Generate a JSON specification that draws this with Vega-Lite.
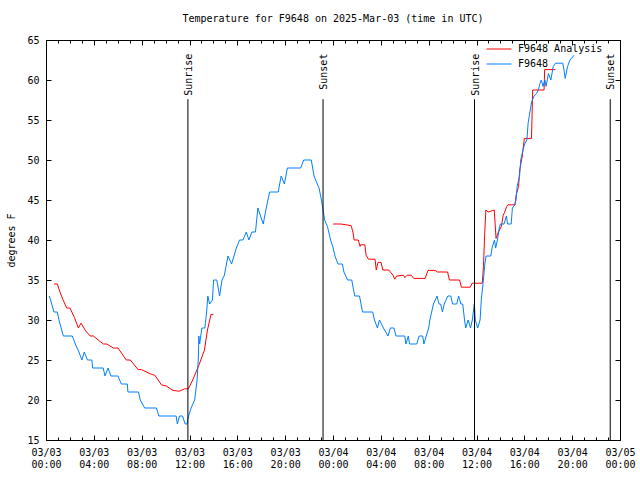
{
  "$schema": "https://vega.github.io/schema/vega-lite/v6.json",
  "width": 574,
  "height": 400,
  "autosize": {"type": "none"},
  "padding": {"left": 46, "top": 40, "right": 20, "bottom": 40},
  "background": "white",
  "title": {"text": "Temperature for F9648 on 2025-Mar-03 (time in UTC)", "font": "DejaVu Sans Mono", "fontSize": 10, "fontWeight": "normal", "offset": 11, "color": "black", "anchor": "middle", "frame": "group"},
  "config": {
    "view": {"stroke": "black", "strokeWidth": 1},
    "axis": {"grid": false, "domain": false, "labelFont": "DejaVu Sans Mono", "labelFontSize": 10, "labelColor": "black", "titleFont": "DejaVu Sans Mono", "titleFontSize": 10, "titleFontWeight": "normal", "titleColor": "black", "tickColor": "black", "tickWidth": 1},
    "legend": {"orient": "none", "legendX": 440, "legendY": 3, "labelFont": "DejaVu Sans Mono", "labelFontSize": 10, "labelColor": "black", "symbolType": "stroke", "symbolStrokeWidth": 1, "symbolSize": 625, "clipHeight": 12, "rowPadding": 3, "padding": 0, "labelOffset": 6}
  },
  "datasets": {
    "obs": [
      {"t":"2025-03-03T00:40:00Z","v":34.5,"s":"F9648 Analysis","g":"a1"},
      {"t":"2025-03-03T00:57:00Z","v":34.5,"s":"F9648 Analysis","g":"a1"},
      {"t":"2025-03-03T01:10:00Z","v":33.5,"s":"F9648 Analysis","g":"a1"},
      {"t":"2025-03-03T01:24:00Z","v":32.6,"s":"F9648 Analysis","g":"a1"},
      {"t":"2025-03-03T01:44:00Z","v":31.5,"s":"F9648 Analysis","g":"a1"},
      {"t":"2025-03-03T02:00:00Z","v":31.5,"s":"F9648 Analysis","g":"a1"},
      {"t":"2025-03-03T02:23:00Z","v":30.3,"s":"F9648 Analysis","g":"a1"},
      {"t":"2025-03-03T02:42:00Z","v":29,"s":"F9648 Analysis","g":"a1"},
      {"t":"2025-03-03T02:56:00Z","v":29.6,"s":"F9648 Analysis","g":"a1"},
      {"t":"2025-03-03T03:20:00Z","v":28.6,"s":"F9648 Analysis","g":"a1"},
      {"t":"2025-03-03T03:42:00Z","v":28,"s":"F9648 Analysis","g":"a1"},
      {"t":"2025-03-03T03:58:00Z","v":28,"s":"F9648 Analysis","g":"a1"},
      {"t":"2025-03-03T04:32:00Z","v":27.3,"s":"F9648 Analysis","g":"a1"},
      {"t":"2025-03-03T04:48:00Z","v":27,"s":"F9648 Analysis","g":"a1"},
      {"t":"2025-03-03T05:05:00Z","v":27,"s":"F9648 Analysis","g":"a1"},
      {"t":"2025-03-03T05:38:00Z","v":26.5,"s":"F9648 Analysis","g":"a1"},
      {"t":"2025-03-03T06:01:00Z","v":26.5,"s":"F9648 Analysis","g":"a1"},
      {"t":"2025-03-03T06:43:00Z","v":25,"s":"F9648 Analysis","g":"a1"},
      {"t":"2025-03-03T07:03:00Z","v":25,"s":"F9648 Analysis","g":"a1"},
      {"t":"2025-03-03T07:42:00Z","v":23.8,"s":"F9648 Analysis","g":"a1"},
      {"t":"2025-03-03T07:59:00Z","v":23.8,"s":"F9648 Analysis","g":"a1"},
      {"t":"2025-03-03T08:49:00Z","v":23.2,"s":"F9648 Analysis","g":"a1"},
      {"t":"2025-03-03T09:06:00Z","v":23.1,"s":"F9648 Analysis","g":"a1"},
      {"t":"2025-03-03T09:39:00Z","v":21.9,"s":"F9648 Analysis","g":"a1"},
      {"t":"2025-03-03T10:03:00Z","v":21.75,"s":"F9648 Analysis","g":"a1"},
      {"t":"2025-03-03T10:37:00Z","v":21.2,"s":"F9648 Analysis","g":"a1"},
      {"t":"2025-03-03T11:08:00Z","v":21.1,"s":"F9648 Analysis","g":"a1"},
      {"t":"2025-03-03T11:36:00Z","v":21.4,"s":"F9648 Analysis","g":"a1"},
      {"t":"2025-03-03T11:54:00Z","v":21.4,"s":"F9648 Analysis","g":"a1"},
      {"t":"2025-03-03T12:16:00Z","v":22.5,"s":"F9648 Analysis","g":"a1"},
      {"t":"2025-03-03T12:48:00Z","v":24.4,"s":"F9648 Analysis","g":"a1"},
      {"t":"2025-03-03T13:15:00Z","v":26.25,"s":"F9648 Analysis","g":"a1"},
      {"t":"2025-03-03T13:30:00Z","v":28.75,"s":"F9648 Analysis","g":"a1"},
      {"t":"2025-03-03T13:48:00Z","v":30.7,"s":"F9648 Analysis","g":"a1"},
      {"t":"2025-03-03T14:00:00Z","v":30.7,"s":"F9648 Analysis","g":"a1"},
      {"t":"2025-03-04T00:01:00Z","v":42,"s":"F9648 Analysis","g":"a2"},
      {"t":"2025-03-04T00:40:00Z","v":42,"s":"F9648 Analysis","g":"a2"},
      {"t":"2025-03-04T01:31:00Z","v":41.8,"s":"F9648 Analysis","g":"a2"},
      {"t":"2025-03-04T01:40:00Z","v":41,"s":"F9648 Analysis","g":"a2"},
      {"t":"2025-03-04T01:46:00Z","v":40,"s":"F9648 Analysis","g":"a2"},
      {"t":"2025-03-04T02:07:00Z","v":40,"s":"F9648 Analysis","g":"a2"},
      {"t":"2025-03-04T02:16:00Z","v":39.2,"s":"F9648 Analysis","g":"a2"},
      {"t":"2025-03-04T02:19:00Z","v":39.4,"s":"F9648 Analysis","g":"a2"},
      {"t":"2025-03-04T02:40:00Z","v":39.4,"s":"F9648 Analysis","g":"a2"},
      {"t":"2025-03-04T02:46:00Z","v":38.1,"s":"F9648 Analysis","g":"a2"},
      {"t":"2025-03-04T02:58:00Z","v":37.6,"s":"F9648 Analysis","g":"a2"},
      {"t":"2025-03-04T03:31:00Z","v":37.6,"s":"F9648 Analysis","g":"a2"},
      {"t":"2025-03-04T03:37:00Z","v":36.25,"s":"F9648 Analysis","g":"a2"},
      {"t":"2025-03-04T03:46:00Z","v":37.2,"s":"F9648 Analysis","g":"a2"},
      {"t":"2025-03-04T04:01:00Z","v":37.2,"s":"F9648 Analysis","g":"a2"},
      {"t":"2025-03-04T04:10:00Z","v":36.25,"s":"F9648 Analysis","g":"a2"},
      {"t":"2025-03-04T04:40:00Z","v":36.25,"s":"F9648 Analysis","g":"a2"},
      {"t":"2025-03-04T05:01:00Z","v":35.6,"s":"F9648 Analysis","g":"a2"},
      {"t":"2025-03-04T05:10:00Z","v":35.1,"s":"F9648 Analysis","g":"a2"},
      {"t":"2025-03-04T05:19:00Z","v":35.5,"s":"F9648 Analysis","g":"a2"},
      {"t":"2025-03-04T05:54:00Z","v":35.6,"s":"F9648 Analysis","g":"a2"},
      {"t":"2025-03-04T06:00:00Z","v":35.3,"s":"F9648 Analysis","g":"a2"},
      {"t":"2025-03-04T06:12:00Z","v":35.6,"s":"F9648 Analysis","g":"a2"},
      {"t":"2025-03-04T06:33:00Z","v":35.6,"s":"F9648 Analysis","g":"a2"},
      {"t":"2025-03-04T06:45:00Z","v":35.2,"s":"F9648 Analysis","g":"a2"},
      {"t":"2025-03-04T07:42:00Z","v":35.2,"s":"F9648 Analysis","g":"a2"},
      {"t":"2025-03-04T07:57:00Z","v":36.2,"s":"F9648 Analysis","g":"a2"},
      {"t":"2025-03-04T08:32:00Z","v":36.2,"s":"F9648 Analysis","g":"a2"},
      {"t":"2025-03-04T08:44:00Z","v":36,"s":"F9648 Analysis","g":"a2"},
      {"t":"2025-03-04T09:35:00Z","v":36,"s":"F9648 Analysis","g":"a2"},
      {"t":"2025-03-04T09:44:00Z","v":35,"s":"F9648 Analysis","g":"a2"},
      {"t":"2025-03-04T10:35:00Z","v":35,"s":"F9648 Analysis","g":"a2"},
      {"t":"2025-03-04T10:44:00Z","v":34.1,"s":"F9648 Analysis","g":"a2"},
      {"t":"2025-03-04T11:29:00Z","v":34.1,"s":"F9648 Analysis","g":"a2"},
      {"t":"2025-03-04T11:38:00Z","v":34.6,"s":"F9648 Analysis","g":"a2"},
      {"t":"2025-03-04T12:29:00Z","v":34.6,"s":"F9648 Analysis","g":"a2"},
      {"t":"2025-03-04T12:35:00Z","v":36.7,"s":"F9648 Analysis","g":"a2"},
      {"t":"2025-03-04T12:41:00Z","v":40.8,"s":"F9648 Analysis","g":"a2"},
      {"t":"2025-03-04T12:47:00Z","v":43.75,"s":"F9648 Analysis","g":"a2"},
      {"t":"2025-03-04T12:59:00Z","v":43.5,"s":"F9648 Analysis","g":"a2"},
      {"t":"2025-03-04T13:29:00Z","v":43.75,"s":"F9648 Analysis","g":"a2"},
      {"t":"2025-03-04T13:38:00Z","v":40.2,"s":"F9648 Analysis","g":"a2"},
      {"t":"2025-03-04T13:50:00Z","v":41,"s":"F9648 Analysis","g":"a2"},
      {"t":"2025-03-04T14:05:00Z","v":41.7,"s":"F9648 Analysis","g":"a2"},
      {"t":"2025-03-04T14:14:00Z","v":43.1,"s":"F9648 Analysis","g":"a2"},
      {"t":"2025-03-04T14:20:00Z","v":43.4,"s":"F9648 Analysis","g":"a2"},
      {"t":"2025-03-04T14:32:00Z","v":44.2,"s":"F9648 Analysis","g":"a2"},
      {"t":"2025-03-04T14:38:00Z","v":44.4,"s":"F9648 Analysis","g":"a2"},
      {"t":"2025-03-04T15:13:00Z","v":44.4,"s":"F9648 Analysis","g":"a2"},
      {"t":"2025-03-04T15:19:00Z","v":45.6,"s":"F9648 Analysis","g":"a2"},
      {"t":"2025-03-04T15:31:00Z","v":46.7,"s":"F9648 Analysis","g":"a2"},
      {"t":"2025-03-04T15:37:00Z","v":48.75,"s":"F9648 Analysis","g":"a2"},
      {"t":"2025-03-04T15:49:00Z","v":50.4,"s":"F9648 Analysis","g":"a2"},
      {"t":"2025-03-04T16:00:00Z","v":52.7,"s":"F9648 Analysis","g":"a2"},
      {"t":"2025-03-04T16:36:00Z","v":52.7,"s":"F9648 Analysis","g":"a2"},
      {"t":"2025-03-04T16:39:00Z","v":55.8,"s":"F9648 Analysis","g":"a2"},
      {"t":"2025-03-04T16:42:00Z","v":58.75,"s":"F9648 Analysis","g":"a2"},
      {"t":"2025-03-04T17:39:00Z","v":58.75,"s":"F9648 Analysis","g":"a2"},
      {"t":"2025-03-04T17:42:00Z","v":61.3,"s":"F9648 Analysis","g":"a2"},
      {"t":"2025-03-04T18:36:00Z","v":61.3,"s":"F9648 Analysis","g":"a2"},
      {"t":"2025-03-03T00:17:00Z","v":33,"s":"F9648","g":"b"},
      {"t":"2025-03-03T00:40:00Z","v":31,"s":"F9648","g":"b"},
      {"t":"2025-03-03T00:57:00Z","v":31,"s":"F9648","g":"b"},
      {"t":"2025-03-03T01:05:00Z","v":30,"s":"F9648","g":"b"},
      {"t":"2025-03-03T01:27:00Z","v":28,"s":"F9648","g":"b"},
      {"t":"2025-03-03T02:12:00Z","v":28,"s":"F9648","g":"b"},
      {"t":"2025-03-03T02:27:00Z","v":27,"s":"F9648","g":"b"},
      {"t":"2025-03-03T02:45:00Z","v":26,"s":"F9648","g":"b"},
      {"t":"2025-03-03T03:00:00Z","v":25,"s":"F9648","g":"b"},
      {"t":"2025-03-03T03:12:00Z","v":26,"s":"F9648","g":"b"},
      {"t":"2025-03-03T03:28:00Z","v":25,"s":"F9648","g":"b"},
      {"t":"2025-03-03T03:50:00Z","v":25,"s":"F9648","g":"b"},
      {"t":"2025-03-03T03:54:00Z","v":24,"s":"F9648","g":"b"},
      {"t":"2025-03-03T04:47:00Z","v":24,"s":"F9648","g":"b"},
      {"t":"2025-03-03T04:56:00Z","v":23,"s":"F9648","g":"b"},
      {"t":"2025-03-03T05:11:00Z","v":24,"s":"F9648","g":"b"},
      {"t":"2025-03-03T05:26:00Z","v":23,"s":"F9648","g":"b"},
      {"t":"2025-03-03T06:01:00Z","v":23,"s":"F9648","g":"b"},
      {"t":"2025-03-03T06:18:00Z","v":22,"s":"F9648","g":"b"},
      {"t":"2025-03-03T06:48:00Z","v":22,"s":"F9648","g":"b"},
      {"t":"2025-03-03T06:51:00Z","v":21,"s":"F9648","g":"b"},
      {"t":"2025-03-03T07:44:00Z","v":21,"s":"F9648","g":"b"},
      {"t":"2025-03-03T07:53:00Z","v":20,"s":"F9648","g":"b"},
      {"t":"2025-03-03T08:15:00Z","v":19,"s":"F9648","g":"b"},
      {"t":"2025-03-03T09:14:00Z","v":19,"s":"F9648","g":"b"},
      {"t":"2025-03-03T09:26:00Z","v":18,"s":"F9648","g":"b"},
      {"t":"2025-03-03T10:53:00Z","v":18,"s":"F9648","g":"b"},
      {"t":"2025-03-03T10:59:00Z","v":17,"s":"F9648","g":"b"},
      {"t":"2025-03-03T11:10:00Z","v":18,"s":"F9648","g":"b"},
      {"t":"2025-03-03T11:25:00Z","v":18,"s":"F9648","g":"b"},
      {"t":"2025-03-03T11:38:00Z","v":17,"s":"F9648","g":"b"},
      {"t":"2025-03-03T11:47:00Z","v":17,"s":"F9648","g":"b"},
      {"t":"2025-03-03T11:55:00Z","v":18,"s":"F9648","g":"b"},
      {"t":"2025-03-03T12:08:00Z","v":19,"s":"F9648","g":"b"},
      {"t":"2025-03-03T12:26:00Z","v":20,"s":"F9648","g":"b"},
      {"t":"2025-03-03T12:38:00Z","v":22.5,"s":"F9648","g":"b"},
      {"t":"2025-03-03T12:44:00Z","v":25,"s":"F9648","g":"b"},
      {"t":"2025-03-03T12:47:00Z","v":28,"s":"F9648","g":"b"},
      {"t":"2025-03-03T12:51:00Z","v":27,"s":"F9648","g":"b"},
      {"t":"2025-03-03T13:02:00Z","v":29,"s":"F9648","g":"b"},
      {"t":"2025-03-03T13:17:00Z","v":29,"s":"F9648","g":"b"},
      {"t":"2025-03-03T13:26:00Z","v":31,"s":"F9648","g":"b"},
      {"t":"2025-03-03T13:32:00Z","v":33,"s":"F9648","g":"b"},
      {"t":"2025-03-03T13:41:00Z","v":32,"s":"F9648","g":"b"},
      {"t":"2025-03-03T13:55:00Z","v":32.5,"s":"F9648","g":"b"},
      {"t":"2025-03-03T14:01:00Z","v":35,"s":"F9648","g":"b"},
      {"t":"2025-03-03T14:17:00Z","v":35,"s":"F9648","g":"b"},
      {"t":"2025-03-03T14:31:00Z","v":33,"s":"F9648","g":"b"},
      {"t":"2025-03-03T14:43:00Z","v":35,"s":"F9648","g":"b"},
      {"t":"2025-03-03T14:55:00Z","v":35.6,"s":"F9648","g":"b"},
      {"t":"2025-03-03T15:13:00Z","v":38,"s":"F9648","g":"b"},
      {"t":"2025-03-03T15:31:00Z","v":37,"s":"F9648","g":"b"},
      {"t":"2025-03-03T15:55:00Z","v":39,"s":"F9648","g":"b"},
      {"t":"2025-03-03T16:11:00Z","v":40,"s":"F9648","g":"b"},
      {"t":"2025-03-03T16:28:00Z","v":40,"s":"F9648","g":"b"},
      {"t":"2025-03-03T16:45:00Z","v":41,"s":"F9648","g":"b"},
      {"t":"2025-03-03T16:58:00Z","v":40,"s":"F9648","g":"b"},
      {"t":"2025-03-03T17:13:00Z","v":41,"s":"F9648","g":"b"},
      {"t":"2025-03-03T17:31:00Z","v":41,"s":"F9648","g":"b"},
      {"t":"2025-03-03T17:43:00Z","v":44,"s":"F9648","g":"b"},
      {"t":"2025-03-03T18:10:00Z","v":42,"s":"F9648","g":"b"},
      {"t":"2025-03-03T18:25:00Z","v":44,"s":"F9648","g":"b"},
      {"t":"2025-03-03T18:42:00Z","v":46,"s":"F9648","g":"b"},
      {"t":"2025-03-03T19:25:00Z","v":46,"s":"F9648","g":"b"},
      {"t":"2025-03-03T19:40:00Z","v":48,"s":"F9648","g":"b"},
      {"t":"2025-03-03T19:56:00Z","v":47,"s":"F9648","g":"b"},
      {"t":"2025-03-03T20:11:00Z","v":49,"s":"F9648","g":"b"},
      {"t":"2025-03-03T21:18:00Z","v":49,"s":"F9648","g":"b"},
      {"t":"2025-03-03T21:33:00Z","v":50,"s":"F9648","g":"b"},
      {"t":"2025-03-03T22:11:00Z","v":50,"s":"F9648","g":"b"},
      {"t":"2025-03-03T22:25:00Z","v":48,"s":"F9648","g":"b"},
      {"t":"2025-03-03T22:36:00Z","v":47.3,"s":"F9648","g":"b"},
      {"t":"2025-03-03T22:50:00Z","v":46.5,"s":"F9648","g":"b"},
      {"t":"2025-03-03T23:02:00Z","v":45,"s":"F9648","g":"b"},
      {"t":"2025-03-03T23:18:00Z","v":42.5,"s":"F9648","g":"b"},
      {"t":"2025-03-03T23:32:00Z","v":41.7,"s":"F9648","g":"b"},
      {"t":"2025-03-03T23:48:00Z","v":40,"s":"F9648","g":"b"},
      {"t":"2025-03-04T00:01:00Z","v":39,"s":"F9648","g":"b"},
      {"t":"2025-03-04T00:10:00Z","v":38,"s":"F9648","g":"b"},
      {"t":"2025-03-04T00:25:00Z","v":37,"s":"F9648","g":"b"},
      {"t":"2025-03-04T00:47:00Z","v":37,"s":"F9648","g":"b"},
      {"t":"2025-03-04T00:55:00Z","v":36,"s":"F9648","g":"b"},
      {"t":"2025-03-04T01:13:00Z","v":35,"s":"F9648","g":"b"},
      {"t":"2025-03-04T01:34:00Z","v":35,"s":"F9648","g":"b"},
      {"t":"2025-03-04T01:49:00Z","v":33,"s":"F9648","g":"b"},
      {"t":"2025-03-04T02:13:00Z","v":33,"s":"F9648","g":"b"},
      {"t":"2025-03-04T02:28:00Z","v":31,"s":"F9648","g":"b"},
      {"t":"2025-03-04T03:19:00Z","v":31,"s":"F9648","g":"b"},
      {"t":"2025-03-04T03:28:00Z","v":30,"s":"F9648","g":"b"},
      {"t":"2025-03-04T03:43:00Z","v":29,"s":"F9648","g":"b"},
      {"t":"2025-03-04T03:53:00Z","v":30,"s":"F9648","g":"b"},
      {"t":"2025-03-04T04:13:00Z","v":29,"s":"F9648","g":"b"},
      {"t":"2025-03-04T04:36:00Z","v":28,"s":"F9648","g":"b"},
      {"t":"2025-03-04T04:48:00Z","v":29,"s":"F9648","g":"b"},
      {"t":"2025-03-04T05:06:00Z","v":29,"s":"F9648","g":"b"},
      {"t":"2025-03-04T05:16:00Z","v":28,"s":"F9648","g":"b"},
      {"t":"2025-03-04T06:00:00Z","v":28,"s":"F9648","g":"b"},
      {"t":"2025-03-04T06:06:00Z","v":27,"s":"F9648","g":"b"},
      {"t":"2025-03-04T06:18:00Z","v":28,"s":"F9648","g":"b"},
      {"t":"2025-03-04T06:24:00Z","v":27,"s":"F9648","g":"b"},
      {"t":"2025-03-04T07:00:00Z","v":27,"s":"F9648","g":"b"},
      {"t":"2025-03-04T07:12:00Z","v":28,"s":"F9648","g":"b"},
      {"t":"2025-03-04T07:30:00Z","v":28,"s":"F9648","g":"b"},
      {"t":"2025-03-04T07:36:00Z","v":27,"s":"F9648","g":"b"},
      {"t":"2025-03-04T07:48:00Z","v":28,"s":"F9648","g":"b"},
      {"t":"2025-03-04T08:00:00Z","v":29,"s":"F9648","g":"b"},
      {"t":"2025-03-04T08:06:00Z","v":30,"s":"F9648","g":"b"},
      {"t":"2025-03-04T08:24:00Z","v":32,"s":"F9648","g":"b"},
      {"t":"2025-03-04T08:42:00Z","v":33,"s":"F9648","g":"b"},
      {"t":"2025-03-04T08:52:00Z","v":32,"s":"F9648","g":"b"},
      {"t":"2025-03-04T09:00:00Z","v":32,"s":"F9648","g":"b"},
      {"t":"2025-03-04T09:09:00Z","v":31,"s":"F9648","g":"b"},
      {"t":"2025-03-04T09:18:00Z","v":32,"s":"F9648","g":"b"},
      {"t":"2025-03-04T09:36:00Z","v":33,"s":"F9648","g":"b"},
      {"t":"2025-03-04T09:51:00Z","v":33,"s":"F9648","g":"b"},
      {"t":"2025-03-04T10:00:00Z","v":32,"s":"F9648","g":"b"},
      {"t":"2025-03-04T10:21:00Z","v":32,"s":"F9648","g":"b"},
      {"t":"2025-03-04T10:30:00Z","v":33,"s":"F9648","g":"b"},
      {"t":"2025-03-04T10:42:00Z","v":32,"s":"F9648","g":"b"},
      {"t":"2025-03-04T10:51:00Z","v":32,"s":"F9648","g":"b"},
      {"t":"2025-03-04T11:00:00Z","v":30,"s":"F9648","g":"b"},
      {"t":"2025-03-04T11:06:00Z","v":29,"s":"F9648","g":"b"},
      {"t":"2025-03-04T11:18:00Z","v":30,"s":"F9648","g":"b"},
      {"t":"2025-03-04T11:30:00Z","v":29,"s":"F9648","g":"b"},
      {"t":"2025-03-04T11:39:00Z","v":30,"s":"F9648","g":"b"},
      {"t":"2025-03-04T11:49:00Z","v":32,"s":"F9648","g":"b"},
      {"t":"2025-03-04T11:54:00Z","v":30,"s":"F9648","g":"b"},
      {"t":"2025-03-04T12:06:00Z","v":29,"s":"F9648","g":"b"},
      {"t":"2025-03-04T12:18:00Z","v":30,"s":"F9648","g":"b"},
      {"t":"2025-03-04T12:24:00Z","v":32.5,"s":"F9648","g":"b"},
      {"t":"2025-03-04T12:33:00Z","v":34.6,"s":"F9648","g":"b"},
      {"t":"2025-03-04T12:42:00Z","v":37,"s":"F9648","g":"b"},
      {"t":"2025-03-04T12:48:00Z","v":38,"s":"F9648","g":"b"},
      {"t":"2025-03-04T13:12:00Z","v":38,"s":"F9648","g":"b"},
      {"t":"2025-03-04T13:18:00Z","v":39,"s":"F9648","g":"b"},
      {"t":"2025-03-04T13:30:00Z","v":40,"s":"F9648","g":"b"},
      {"t":"2025-03-04T13:36:00Z","v":39,"s":"F9648","g":"b"},
      {"t":"2025-03-04T13:45:00Z","v":40,"s":"F9648","g":"b"},
      {"t":"2025-03-04T13:54:00Z","v":41.5,"s":"F9648","g":"b"},
      {"t":"2025-03-04T14:00:00Z","v":42,"s":"F9648","g":"b"},
      {"t":"2025-03-04T14:18:00Z","v":42,"s":"F9648","g":"b"},
      {"t":"2025-03-04T14:30:00Z","v":43,"s":"F9648","g":"b"},
      {"t":"2025-03-04T14:36:00Z","v":42,"s":"F9648","g":"b"},
      {"t":"2025-03-04T14:54:00Z","v":42,"s":"F9648","g":"b"},
      {"t":"2025-03-04T15:00:00Z","v":44,"s":"F9648","g":"b"},
      {"t":"2025-03-04T15:12:00Z","v":44.4,"s":"F9648","g":"b"},
      {"t":"2025-03-04T15:18:00Z","v":45,"s":"F9648","g":"b"},
      {"t":"2025-03-04T15:24:00Z","v":46.7,"s":"F9648","g":"b"},
      {"t":"2025-03-04T15:36:00Z","v":48,"s":"F9648","g":"b"},
      {"t":"2025-03-04T15:42:00Z","v":50,"s":"F9648","g":"b"},
      {"t":"2025-03-04T15:51:00Z","v":51,"s":"F9648","g":"b"},
      {"t":"2025-03-04T16:01:00Z","v":52,"s":"F9648","g":"b"},
      {"t":"2025-03-04T16:13:00Z","v":52.5,"s":"F9648","g":"b"},
      {"t":"2025-03-04T16:19:00Z","v":54.6,"s":"F9648","g":"b"},
      {"t":"2025-03-04T16:28:00Z","v":56,"s":"F9648","g":"b"},
      {"t":"2025-03-04T16:37:00Z","v":57.3,"s":"F9648","g":"b"},
      {"t":"2025-03-04T16:49:00Z","v":58,"s":"F9648","g":"b"},
      {"t":"2025-03-04T17:01:00Z","v":58.3,"s":"F9648","g":"b"},
      {"t":"2025-03-04T17:10:00Z","v":58.75,"s":"F9648","g":"b"},
      {"t":"2025-03-04T17:19:00Z","v":59.6,"s":"F9648","g":"b"},
      {"t":"2025-03-04T17:25:00Z","v":60,"s":"F9648","g":"b"},
      {"t":"2025-03-04T17:34:00Z","v":59.2,"s":"F9648","g":"b"},
      {"t":"2025-03-04T17:43:00Z","v":60,"s":"F9648","g":"b"},
      {"t":"2025-03-04T17:49:00Z","v":59.2,"s":"F9648","g":"b"},
      {"t":"2025-03-04T18:01:00Z","v":60.8,"s":"F9648","g":"b"},
      {"t":"2025-03-04T18:13:00Z","v":60,"s":"F9648","g":"b"},
      {"t":"2025-03-04T18:25:00Z","v":61.7,"s":"F9648","g":"b"},
      {"t":"2025-03-04T18:37:00Z","v":62.1,"s":"F9648","g":"b"},
      {"t":"2025-03-04T19:13:00Z","v":62.1,"s":"F9648","g":"b"},
      {"t":"2025-03-04T19:19:00Z","v":61.25,"s":"F9648","g":"b"},
      {"t":"2025-03-04T19:25:00Z","v":60.2,"s":"F9648","g":"b"},
      {"t":"2025-03-04T19:37:00Z","v":61.7,"s":"F9648","g":"b"},
      {"t":"2025-03-04T19:49:00Z","v":62.5,"s":"F9648","g":"b"},
      {"t":"2025-03-04T20:10:00Z","v":63.1,"s":"F9648","g":"b"}
    ],
    "sun": [
      {"t":"2025-03-03T11:52:00Z","e":"Sunrise"},
      {"t":"2025-03-03T23:10:00Z","e":"Sunset"},
      {"t":"2025-03-04T11:50:00Z","e":"Sunrise"},
      {"t":"2025-03-04T23:11:00Z","e":"Sunset"}
    ]
  },
  "layer": [
    {
      "data": {"name": "obs"},
      "mark": {"type": "line", "strokeWidth": 1},
      "encoding": {
        "x": {"field": "t", "type": "temporal", "scale": {"domain": [1740960000000, 1741132800000]},
              "axis": {"orient": "bottom", "ticks": false, "title": null, "values": [1740960000000, 1740974400000, 1740988800000, 1741003200000, 1741017600000, 1741032000000, 1741046400000, 1741060800000, 1741075200000, 1741089600000, 1741104000000, 1741118400000, 1741132800000], "labelExpr": "utcFormat(datum.value, '%m/%d')", "labelPadding": 7, "labelOverlap": false, "labelFlush": false}},
        "y": {"field": "v", "type": "quantitative", "scale": {"domain": [15, 65], "nice": false, "zero": false},
              "axis": {"orient": "left", "ticks": false, "title": "degrees F", "values": [15, 20, 25, 30, 35, 40, 45, 50, 55, 60, 65], "labelPadding": 7, "titlePadding": 10}},
        "color": {"field": "s", "type": "nominal", "scale": {"domain": ["F9648 Analysis", "F9648"], "range": ["#ff0000", "#0080ff"]}, "legend": {"title": null}},
        "detail": {"field": "g"}
      }
    },
    {
      "data": {"name": "sun"},
      "mark": {"type": "rule", "color": "black", "strokeWidth": 1},
      "encoding": {
        "x": {"field": "t", "type": "temporal",
              "axis": {"orient": "bottom", "title": null, "values": [1740960000000, 1740974400000, 1740988800000, 1741003200000, 1741017600000, 1741032000000, 1741046400000, 1741060800000, 1741075200000, 1741089600000, 1741104000000, 1741118400000, 1741132800000], "labelExpr": "utcFormat(datum.value, '%H:%M')", "labels": true, "ticks": false, "labelPadding": 19, "labelOverlap": false, "labelFlush": false}},
        "y": {"datum": 57.6, "type": "quantitative",
              "axis": {"orient": "right", "labels": false, "title": null, "values": [15, 20, 25, 30, 35, 40, 45, 50, 55, 60, 65], "tickSize": 5, "offset": -5}},
        "y2": {"datum": 15}
      }
    },
    {
      "data": {"name": "sun"},
      "mark": {"type": "text", "angle": 270, "align": "right", "baseline": "middle", "font": "DejaVu Sans Mono", "fontSize": 10, "color": "black", "dy": 1},
      "encoding": {
        "x": {"field": "t", "type": "temporal", "axis": {"orient": "top", "labels": false, "title": null, "values": [1740960000000, 1740974400000, 1740988800000, 1741003200000, 1741017600000, 1741032000000, 1741046400000, 1741060800000, 1741075200000, 1741089600000, 1741104000000, 1741118400000, 1741132800000], "tickSize": 5, "offset": -5}},
        "y": {"datum": 63.3, "type": "quantitative", "axis": {"orient": "left", "labels": false, "title": null, "values": [15, 20, 25, 30, 35, 40, 45, 50, 55, 60, 65], "tickSize": 5, "offset": -5}},
        "text": {"field": "e"}
      }
    },
    {
      "data": {"name": "sun"},
      "mark": {"type": "rule", "opacity": 0},
      "encoding": {
        "x": {"field": "t", "type": "temporal", "axis": {"orient": "bottom", "labels": false, "title": null, "values": [1740960000000, 1740974400000, 1740988800000, 1741003200000, 1741017600000, 1741032000000, 1741046400000, 1741060800000, 1741075200000, 1741089600000, 1741104000000, 1741118400000, 1741132800000], "tickSize": 5, "offset": -5}},
        "y": {"datum": 57.6, "type": "quantitative", "axis": null}
      }
    },
    {
      "data": {"name": "sun"},
      "mark": {"type": "rule", "opacity": 0},
      "encoding": {
        "x": {"field": "t", "type": "temporal", "axis": {"orient": "bottom", "labels": false, "title": null, "values": [1740960000000, 1740963600000, 1740967200000, 1740970800000, 1740974400000, 1740978000000, 1740981600000, 1740985200000, 1740988800000, 1740992400000, 1740996000000, 1740999600000, 1741003200000, 1741006800000, 1741010400000, 1741014000000, 1741017600000, 1741021200000, 1741024800000, 1741028400000, 1741032000000, 1741035600000, 1741039200000, 1741042800000, 1741046400000, 1741050000000, 1741053600000, 1741057200000, 1741060800000, 1741064400000, 1741068000000, 1741071600000, 1741075200000, 1741078800000, 1741082400000, 1741086000000, 1741089600000, 1741093200000, 1741096800000, 1741100400000, 1741104000000, 1741107600000, 1741111200000, 1741114800000, 1741118400000, 1741122000000, 1741125600000, 1741129200000, 1741132800000], "tickSize": 3, "offset": -3}},
        "y": {"datum": 57.6, "type": "quantitative", "axis": null}
      }
    },
    {
      "data": {"name": "sun"},
      "mark": {"type": "rule", "opacity": 0},
      "encoding": {
        "x": {"field": "t", "type": "temporal", "axis": {"orient": "top", "labels": false, "title": null, "values": [1740960000000, 1740963600000, 1740967200000, 1740970800000, 1740974400000, 1740978000000, 1740981600000, 1740985200000, 1740988800000, 1740992400000, 1740996000000, 1740999600000, 1741003200000, 1741006800000, 1741010400000, 1741014000000, 1741017600000, 1741021200000, 1741024800000, 1741028400000, 1741032000000, 1741035600000, 1741039200000, 1741042800000, 1741046400000, 1741050000000, 1741053600000, 1741057200000, 1741060800000, 1741064400000, 1741068000000, 1741071600000, 1741075200000, 1741078800000, 1741082400000, 1741086000000, 1741089600000, 1741093200000, 1741096800000, 1741100400000, 1741104000000, 1741107600000, 1741111200000, 1741114800000, 1741118400000, 1741122000000, 1741125600000, 1741129200000, 1741132800000], "tickSize": 3, "offset": -3}},
        "y": {"datum": 57.6, "type": "quantitative", "axis": null}
      }
    }
  ],
  "resolve": {"axis": {"x": "independent", "y": "independent"}}
}
